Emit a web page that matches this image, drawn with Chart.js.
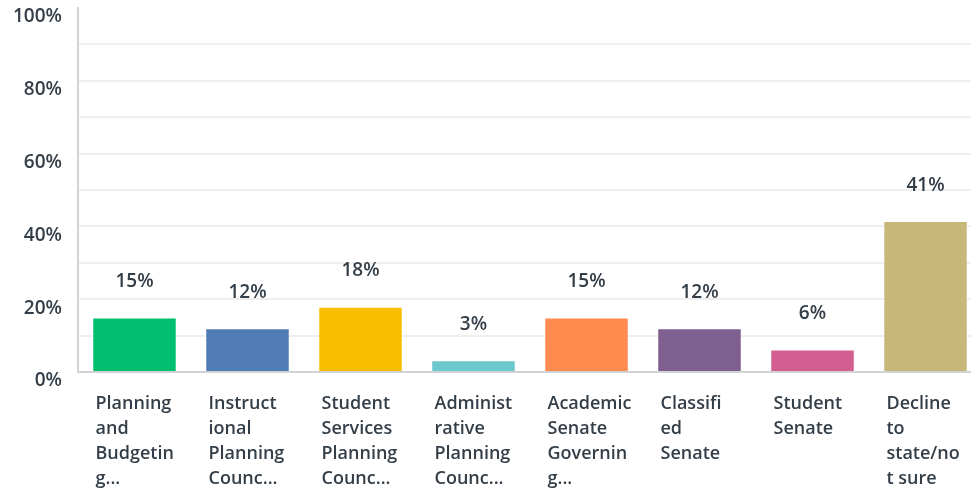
<!DOCTYPE html>
<html>
<head>
<meta charset="utf-8">
<script src="https://cdn.jsdelivr.net/npm/chart.js@4.4.0/dist/chart.umd.min.js"></script>
<style>
  html, body { margin: 0; padding: 0; background: #fff; overflow: hidden; }
  #wrap { width: 982px; height: 493px; position: relative; }
</style>
</head>
<body>
<div id="wrap"><canvas id="mycanvas"></canvas></div>
<script>
// answer choices, wrapped the way the survey tool cuts them
var categories = [
    ["Planning", "and", "Budgetin", "g..."],
    ["Instruct", "ional", "Planning", "Counc..."],
    ["Student", "Services", "Planning", "Counc..."],
    ["Administ", "rative", "Planning", "Counc..."],
    ["Academic", "Senate", "Governin", "g..."],
    ["Classifi", "ed", "Senate"],
    ["Student", "Senate"],
    ["Decline", "to", "state/no", "t sure"]
];
var percents = [14.71, 11.76, 17.65, 2.94, 14.71, 11.76, 5.88, 41.18];
var barColors = ['#00bf6f', '#507cb6', '#f9be00', '#6bc8cd', '#ff8b4f', '#7f5f90', '#d25f90', '#c7b879'];
var yTicks = [0, 20, 40, 60, 80, 100];

var textColor = '#333e48';
var fontFam = '"Open Sans", "Noto Sans", sans-serif';

// percent labels above each bar
var valueLabels = {
    id: 'valueLabels',
    afterDatasetsDraw: function(chart) {
        var ctx = chart.ctx;
        var meta = chart.getDatasetMeta(0);
        ctx.save();
        ctx.font = '600 19px ' + fontFam;
        ctx.fillStyle = textColor;
        ctx.textAlign = 'center';
        ctx.textBaseline = 'middle';
        meta.data.forEach(function(bar, i) {
            ctx.fillText(Math.round(percents[i]) + '%', bar.x, bar.y - 37);
        });
        ctx.restore();
    }
};

var chartdata = {
    labels: categories,
    datasets: [{
        data: percents,
        backgroundColor: barColors,
        borderWidth: 0,
        categoryPercentage: 0.73,
        barPercentage: 1
    }]
};

var barGraph = new Chart(document.getElementById('mycanvas'), {
    type: 'bar',
    data: chartdata,
    plugins: [valueLabels],
    options: {
        responsive: true,
        maintainAspectRatio: false,
        animation: false,
        layout: { padding: { top: 8, right: 0, left: 0, bottom: 0 } },
        plugins: { legend: { display: false }, tooltip: { enabled: false } },
        scales: {
            x: {
                grid: { display: false, drawTicks: false },
                border: { display: true, color: '#d0d2d3', width: 2 },
                ticks: {
                    color: textColor,
                    font: { family: fontFam, size: 18, weight: '600', lineHeight: 1.39 },
                    align: 'start',
                    labelOffset: -39,
                    padding: 19,
                    maxRotation: 0,
                    autoSkip: false
                },
                afterFit: function(scale) {
                    scale.height = 121;
                    scale.paddingLeft = 0;
                    scale.paddingRight = 0;
                }
            },
            y: {
                min: 0,
                max: 100,
                grid: {
                    drawTicks: false,
                    lineWidth: 2,
                    color: function(c) {
                        if (c.tick && c.tick.value === 100) return 'rgba(0,0,0,0)';
                        return '#efefef';
                    }
                },
                border: { display: true, color: '#d0d2d3', width: 2 },
                ticks: {
                    stepSize: 10,
                    color: textColor,
                    padding: 16,
                    labelOffset: 9,
                    font: { family: fontFam, size: 19, weight: '600' },
                    callback: function(v) {
                        return yTicks.indexOf(v) >= 0 ? v + '%' : '';
                    }
                },
                afterFit: function(scale) {
                    scale.width = 78;
                    scale.paddingTop = 0;
                    scale.paddingBottom = 0;
                }
            }
        }
    }
});
</script>
</body>
</html>
